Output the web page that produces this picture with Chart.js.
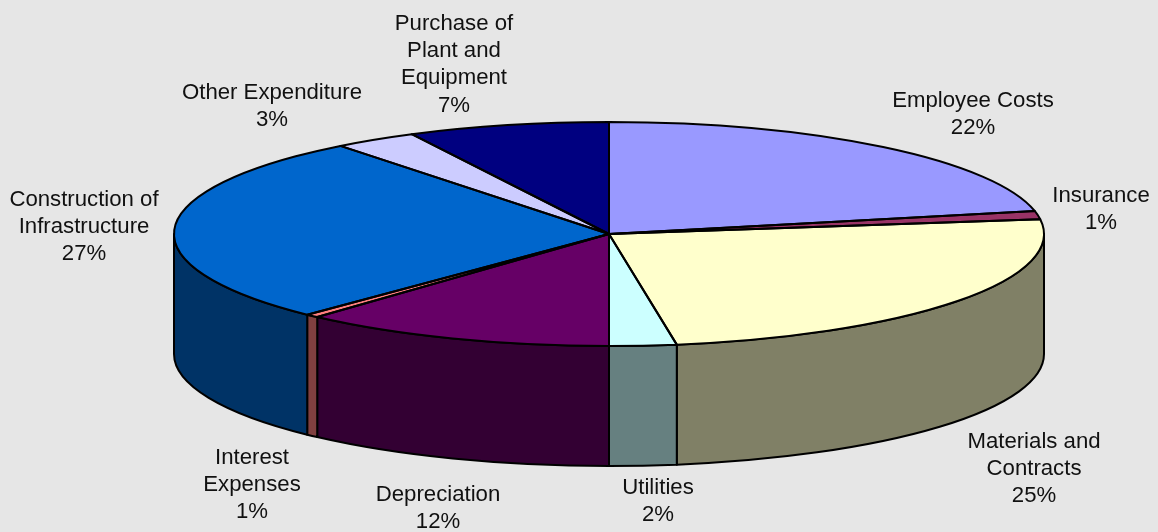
<!DOCTYPE html>
<html><head><meta charset="utf-8">
<style>html,body{margin:0;padding:0;background:#e6e6e6}canvas{display:block}</style>
<script src="https://cdn.jsdelivr.net/npm/chart.js@4"></script>
</head><body>
<div style="width:1158px;height:532px"><canvas id="c" width="1158" height="532"></canvas></div>
<script>
const categories = ["Employee Costs","Insurance","Materials and Contracts","Utilities","Depreciation","Interest Expenses","Construction of Infrastructure","Other Expenditure","Purchase of Plant and Equipment"];
const values = [21.7,1.2,24.6,2.49,11.7,0.5,27.2,3.1,7.49];
const topColors = ["#9999ff","#993366","#ffffcc","#ccffff","#660066","#ff8080","#0066cc","#ccccff","#000080"];
const sideColors = ["#4d4d80","#4d1a33","#808066","#668080","#330033","#804040","#003366","#666680","#000040"];
const labelLines = [["Employee Costs"],["Insurance"],["Materials and","Contracts"],["Utilities"],["Depreciation"],["Interest","Expenses"],["Construction of","Infrastructure"],["Other Expenditure"],["Purchase of","Plant and","Equipment"]];
const labelCenters = [[973,100.5],[1101,196],[1034,441.5],[658,488],[438,494.5],[252,457.5],[84,199.5],[272,92.5],[454,23.5]];

const PIE = {cx:609, cy:234, rx:435, ry:112, depth:120};
const LINE_H = 27.3;

const pie3d = {
  id:'pie3d',
  beforeDatasetsDraw(chart){
    const ctx = chart.ctx, arcs = chart.getDatasetMeta(0).data;
    const R = arcs[0].outerRadius, ax = arcs[0].x, ay = arcs[0].y;
    const pt=(t,d)=>[PIE.cx+PIE.rx*Math.cos(t), PIE.cy+PIE.ry*Math.sin(t)+d];
    ctx.save();
    ctx.lineWidth=2; ctx.strokeStyle='#000'; ctx.lineJoin='round';
    arcs.forEach((a,i)=>{
      const range=[[a.startAngle,a.endAngle],[a.startAngle-2*Math.PI,a.endAngle-2*Math.PI]];
      range.forEach(([s,e])=>{
        const s1=Math.max(s,0), e1=Math.min(e,Math.PI);
        if(e1<=s1) return;
        ctx.beginPath();
        ctx.ellipse(PIE.cx,PIE.cy,PIE.rx,PIE.ry,0,s1,e1);
        const p=pt(e1,PIE.depth); ctx.lineTo(p[0],p[1]);
        ctx.ellipse(PIE.cx,PIE.cy+PIE.depth,PIE.rx,PIE.ry,0,e1,s1,true);
        ctx.closePath();
        ctx.fillStyle=sideColors[i]; ctx.fill(); ctx.stroke();
      });
    });
    ctx.restore();
    ctx.save();
    ctx.translate(PIE.cx,PIE.cy);
    ctx.scale(PIE.rx/R,PIE.ry/R);
    ctx.translate(-ax,-ay);
  },
  afterDatasetsDraw(chart){
    const ctx = chart.ctx, arcs = chart.getDatasetMeta(0).data;
    ctx.restore();
    ctx.save();
    ctx.lineWidth=2; ctx.strokeStyle='#000'; ctx.lineJoin='round';
    arcs.forEach(a=>{
      ctx.beginPath();
      ctx.moveTo(PIE.cx,PIE.cy);
      ctx.ellipse(PIE.cx,PIE.cy,PIE.rx,PIE.ry,0,a.startAngle,a.endAngle);
      ctx.closePath();
      ctx.stroke();
    });
    ctx.fillStyle='#111';
    ctx.font='22.2px "Liberation Sans", Arial, sans-serif';
    ctx.textAlign='center'; ctx.textBaseline='middle';
    arcs.forEach((a,i)=>{
      const [x,y]=labelCenters[i];
      const lines=[...labelLines[i],Math.round(values[i])+'%'];
      lines.forEach((l,k)=>ctx.fillText(l,x,y+k*LINE_H));
    });
    ctx.restore();
  }
};

new Chart(document.getElementById('c'),{
  type:'pie',
  data:{labels:categories,datasets:[{data:values,backgroundColor:topColors,borderWidth:0,clip:false}]},
  options:{
    responsive:false,animation:false,
    layout:{padding:20},
    events:[],
    plugins:{legend:{display:false},tooltip:{enabled:false},title:{display:false}}
  },
  plugins:[{id:'bg',beforeDraw(c){const x=c.ctx;x.save();x.fillStyle='#e6e6e6';x.fillRect(0,0,c.width,c.height);x.restore();}},pie3d]
});
</script>
</body></html>
